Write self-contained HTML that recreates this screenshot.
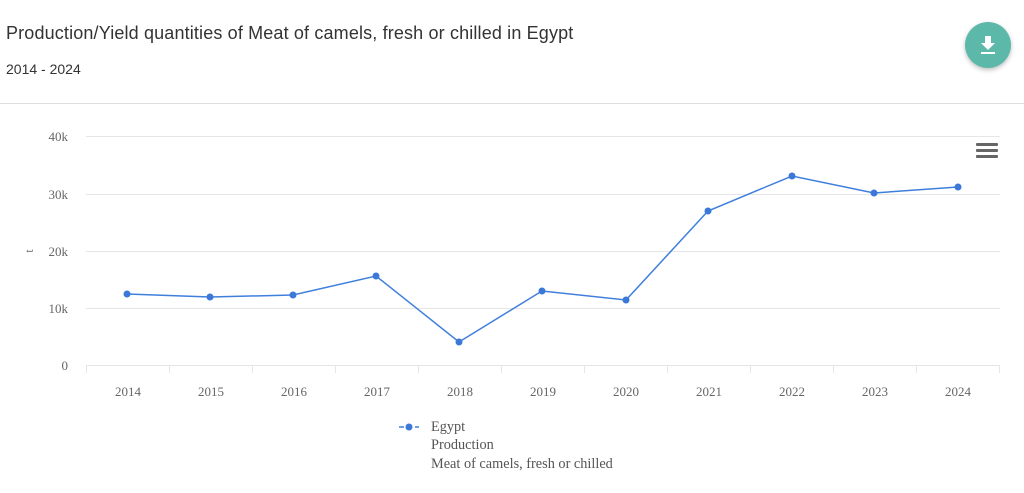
<!DOCTYPE html>
<html><head><style>
body{margin:0;width:1024px;height:493px;background:#fff;overflow:hidden;position:relative;font-family:"Liberation Sans",sans-serif}
.t{position:absolute;left:6px;top:23px;font-size:18px;color:#333;letter-spacing:0.15px}
.s{position:absolute;left:6px;top:61px;font-size:14px;color:#333}
.hr{position:absolute;left:0;top:103px;width:1024px;height:1px;background:#ddd}
.btn{position:absolute;left:965px;top:22px;width:46px;height:46px;border-radius:50%;background:#5cb8a8;box-shadow:0 2px 5px rgba(0,0,0,.25)}
</style></head><body>
<div class="t">Production/Yield quantities of Meat of camels, fresh or chilled in Egypt</div>
<div class="s">2014 - 2024</div>
<div class="hr"></div>
<div class="btn"><svg width="46" height="46"><path d="M20 14h6v7h4l-7 7-7-7h4z" fill="#fff"/><rect x="16" y="30" width="14" height="2" fill="#fff"/></svg></div>
<svg width="1024" height="493" style="position:absolute;left:0;top:0" font-family="Liberation Serif, serif">
<g stroke="#e6e6e6" stroke-width="1">
<line x1="86" x2="1000" y1="136.5" y2="136.5"/><line x1="86" x2="1000" y1="194.5" y2="194.5"/><line x1="86" x2="1000" y1="251.5" y2="251.5"/><line x1="86" x2="1000" y1="308.5" y2="308.5"/><line x1="86" x2="1000" y1="365.5" y2="365.5"/>
<line x1="86.5" x2="86.5" y1="365" y2="373"/><line x1="169.5" x2="169.5" y1="365" y2="373"/><line x1="252.5" x2="252.5" y1="365" y2="373"/><line x1="335.5" x2="335.5" y1="365" y2="373"/><line x1="418.5" x2="418.5" y1="365" y2="373"/><line x1="501.5" x2="501.5" y1="365" y2="373"/><line x1="584.5" x2="584.5" y1="365" y2="373"/><line x1="667.5" x2="667.5" y1="365" y2="373"/><line x1="750.5" x2="750.5" y1="365" y2="373"/><line x1="833.5" x2="833.5" y1="365" y2="373"/><line x1="916.5" x2="916.5" y1="365" y2="373"/><line x1="999.5" x2="999.5" y1="365" y2="373"/>
</g>
<g fill="#666" font-size="13" text-anchor="end">
<text x="68" y="141">40k</text><text x="68" y="199">30k</text><text x="68" y="256">20k</text><text x="68" y="313">10k</text><text x="68" y="370">0</text>
</g>
<text x="33" y="251" fill="#666" font-size="12" transform="rotate(-90 33 251)" text-anchor="middle">t</text>
<g fill="#666" font-size="13" text-anchor="middle">
<text x="128" y="396">2014</text><text x="211" y="396">2015</text><text x="294" y="396">2016</text><text x="377" y="396">2017</text><text x="460" y="396">2018</text><text x="543" y="396">2019</text><text x="626" y="396">2020</text><text x="709" y="396">2021</text><text x="792" y="396">2022</text><text x="875" y="396">2023</text><text x="958" y="396">2024</text>
</g>
<polyline fill="none" stroke="#3f7fdc" stroke-width="1.5" points="127,294 210,297 293,295 376,276 459,342 542,291 626,300 708,211 792,176 874,193 958,187"/>
<g fill="#3b78d8">
<circle cx="127" cy="294" r="3.5"/><circle cx="210" cy="297" r="3.5"/><circle cx="293" cy="295" r="3.5"/><circle cx="376" cy="276" r="3.5"/><circle cx="459" cy="342" r="3.5"/><circle cx="542" cy="291" r="3.5"/><circle cx="626" cy="300" r="3.5"/><circle cx="708" cy="211" r="3.5"/><circle cx="792" cy="176" r="3.5"/><circle cx="874" cy="193" r="3.5"/><circle cx="958" cy="187" r="3.5"/>
</g>
<g fill="#666"><rect x="976" y="143" width="22" height="3" rx="1"/><rect x="976" y="149" width="22" height="3" rx="1"/><rect x="976" y="155" width="22" height="3" rx="1"/></g>
<line x1="399" x2="419" y1="427" y2="427" stroke="#3f7fdc" stroke-width="1.5" stroke-dasharray="5,3"/>
<circle cx="409" cy="427" r="3.5" fill="#3b78d8"/>
<g fill="#555" font-size="14.3">
<text x="431" y="431">Egypt</text><text x="431" y="449">Production</text><text x="431" y="468">Meat of camels, fresh or chilled</text>
</g>
</svg>
</body></html>
